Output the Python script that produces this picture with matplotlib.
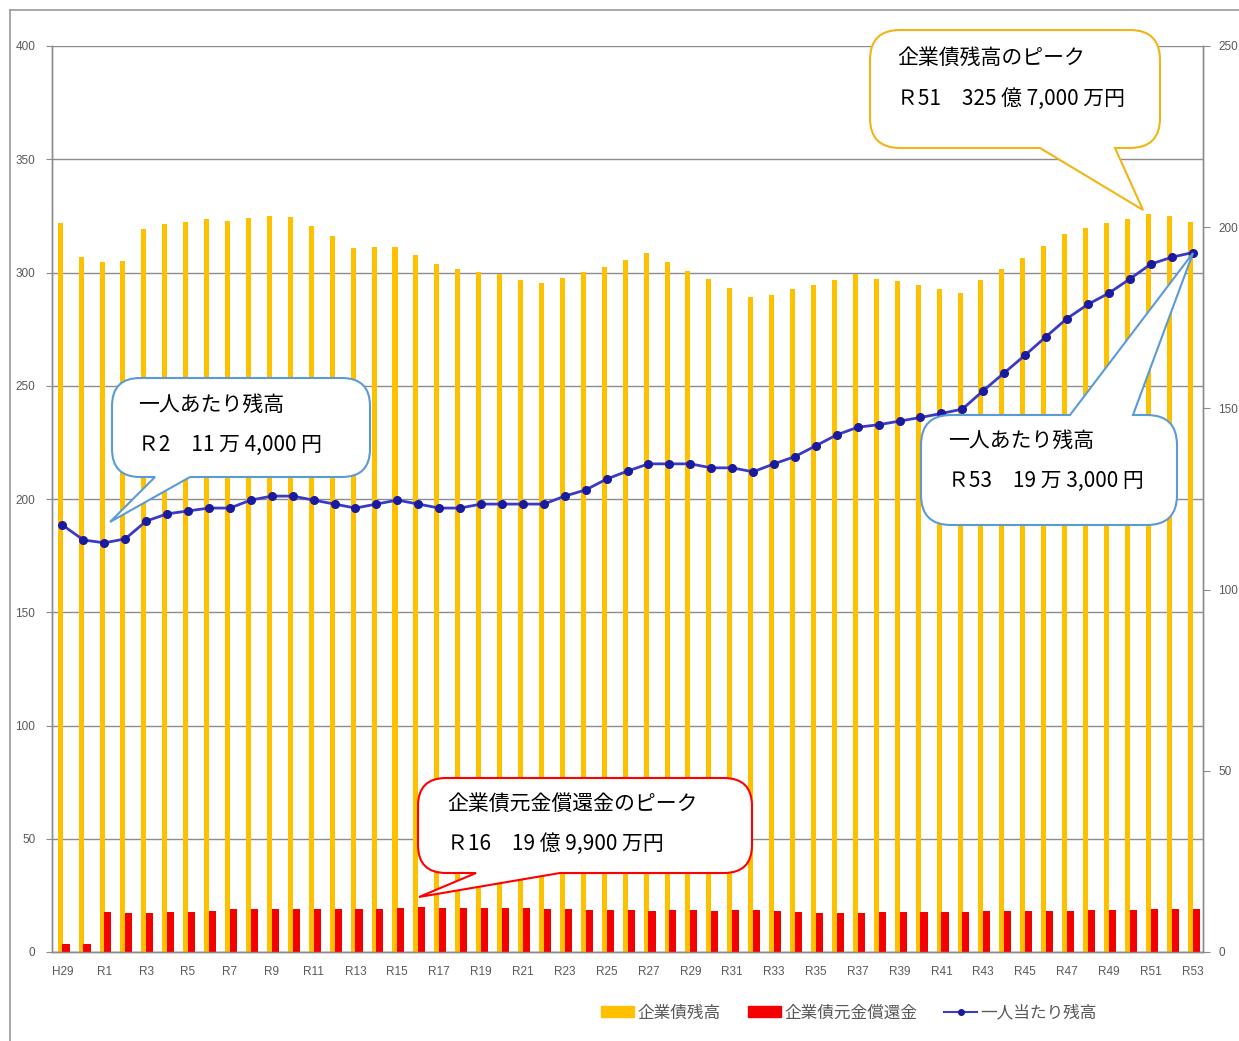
import matplotlib
matplotlib.use("Agg")
import matplotlib.pyplot as plt
from matplotlib.path import Path
from matplotlib.patches import PathPatch, Patch
from matplotlib.lines import Line2D
import numpy as np

plt.rcParams['font.family'] = ['Noto Sans CJK JP', 'DejaVu Sans']

# ---------------- data ----------------
categories = ["H29", "H30"] + [f"R{i}" for i in range(1, 54)]
tick_labels = categories[::2]

bond_balance = [322.0, 307.0, 304.5, 305.0, 319.0, 321.3, 322.3, 323.6, 322.7, 324.1,
                325.0, 324.5, 320.7, 316.1, 310.7, 311.1, 311.1, 307.7, 303.8, 301.6,
                300.4, 299.3, 296.7, 295.5, 297.6, 300.1, 302.4, 305.4, 308.5, 304.6,
                300.7, 297.0, 293.3, 289.2, 290.1, 292.6, 294.3, 296.5, 299.2, 297.3,
                296.1, 294.3, 292.9, 290.8, 296.5, 301.4, 306.5, 311.8, 317.1, 319.8,
                321.7, 323.6, 325.7, 325.0, 322.3]

principal_repay = [3.6, 3.6, 17.6, 17.2, 17.2, 17.6, 17.6, 18.0, 19.2, 19.2,
                   19.2, 19.2, 19.2, 18.8, 19.2, 19.2, 19.6, 19.99, 19.6, 19.6,
                   19.6, 19.6, 19.6, 19.2, 19.2, 18.5, 18.5, 18.5, 18.0, 18.5,
                   18.5, 18.0, 18.5, 18.5, 18.0, 17.6, 17.3, 17.3, 17.3, 17.6,
                   17.6, 17.6, 17.6, 17.6, 18.0, 18.0, 18.0, 18.0, 18.0, 18.5,
                   18.5, 18.5, 18.9, 18.9, 18.9]

per_capita = [117.8, 113.7, 112.9, 114.0, 118.9, 120.9, 121.7, 122.5, 122.5, 124.7,
              125.8, 125.8, 124.7, 123.6, 122.5, 123.6, 124.7, 123.6, 122.5, 122.5,
              123.6, 123.6, 123.6, 123.6, 125.8, 127.5, 130.5, 132.7, 134.7, 134.7,
              134.7, 133.6, 133.6, 132.5, 134.7, 136.7, 139.7, 142.7, 144.8, 145.5,
              146.5, 147.5, 148.6, 149.8, 154.9, 159.8, 164.7, 169.8, 174.8, 178.7,
              181.8, 185.7, 189.8, 191.7, 193.0]

series_names = ["企業債残高", "企業債元金償還金", "一人当たり残高"]

# ---------------- figure ----------------
W, H = 1239, 1041
fig = plt.figure(figsize=(W / 100, H / 100), dpi=100)
fig.patch.set_facecolor("white")

ax_l, ax_r, ax_t, ax_b = 52, 1203, 46, 952
ax = fig.add_axes([ax_l / W, 1 - ax_b / H, (ax_r - ax_l) / W, (ax_b - ax_t) / H])
ax2 = ax.twinx()

x = np.arange(len(categories))
yellow = "#FFC000"
red = "#F50000"
grid_c = "#8C8C8C"
tick_c = "#595959"
tick_font = ['Liberation Sans Narrow', 'Liberation Sans', 'DejaVu Sans']

ax.bar(x - 0.11, bond_balance, width=0.24, color=yellow, zorder=2)
ax.bar(x + 0.17, principal_repay, width=0.34, color=red, zorder=3)

ax.set_xlim(-0.5, len(categories) - 0.5)
ax.set_ylim(0, 400)
ax.set_yticks(np.arange(0, 401, 50))
ax2.set_ylim(0, 250)
ax2.set_yticks(np.arange(0, 251, 50))

ax.yaxis.grid(True, color=grid_c, lw=1.0, zorder=0)
ax.set_axisbelow(True)
ax.set_xticks(x[::2])
ax.set_xticklabels(tick_labels)

ax2.plot(x, per_capita, color="#3A3AC4", lw=2.0, marker="o", markersize=5.5,
         markerfacecolor="#1A1A9E", markeredgecolor="#1A1A9E", zorder=5)

for a in (ax, ax2):
    for s in a.spines.values():
        s.set_color(grid_c)
        s.set_linewidth(1.0)
    a.spines['top'].set_visible(False)

ax.tick_params(axis='y', length=4, color=grid_c, labelcolor=tick_c, labelsize=8.5, pad=8)
ax.tick_params(axis='x', length=0, labelcolor=tick_c, labelsize=8.5, pad=10)
ax2.tick_params(axis='y', length=5, color=grid_c, labelcolor=tick_c, labelsize=8.5, pad=6)
for lab in ax.get_xticklabels() + ax.get_yticklabels() + ax2.get_yticklabels():
    lab.set_family(tick_font)

# legend
handles = [Patch(facecolor=yellow, edgecolor=yellow),
           Patch(facecolor=red, edgecolor=red),
           Line2D([0], [0], color="#3A3AC4", lw=1.5, marker="o", markersize=4,
                  markerfacecolor="#1A1A9E", markeredgecolor="#1A1A9E")]
leg = fig.legend(handles, series_names, loc="center", ncol=3, frameon=False,
                 bbox_to_anchor=(849 / W, 1 - 1013 / H), fontsize=12,
                 handlelength=2.0, handleheight=0.6, handletextpad=0.2,
                 columnspacing=1.6, labelcolor=tick_c)

# ---------------- overlay for frame and callouts ----------------
ov = fig.add_axes([0, 0, 1, 1], zorder=10)
ov.set_xlim(0, W)
ov.set_ylim(H, 0)
ov.axis("off")
ov.patch.set_alpha(0)

frame_c = "#9A9A9A"
ov.plot([10, 10], [10, H], color=frame_c, lw=1.2)
ov.plot([10, W], [10, 10], color=frame_c, lw=1.2)


def callout(x0, y0, x1, y1, r, side, b0, b1, tip, color):
    V = [(x0 + r, y0)]
    C = [Path.MOVETO]
    if side == "top":
        V += [(b0, y0), tip, (b1, y0)]
        C += [Path.LINETO] * 3
    V += [(x1 - r, y0), (x1, y0), (x1, y0 + r), (x1, y1 - r), (x1, y1), (x1 - r, y1)]
    C += [Path.LINETO, Path.CURVE3, Path.CURVE3, Path.LINETO, Path.CURVE3, Path.CURVE3]
    if side == "bottom":
        V += [(b1, y1), tip, (b0, y1)]
        C += [Path.LINETO] * 3
    V += [(x0 + r, y1), (x0, y1), (x0, y1 - r), (x0, y0 + r), (x0, y0), (x0 + r, y0), (x0 + r, y0)]
    C += [Path.LINETO, Path.CURVE3, Path.CURVE3, Path.LINETO, Path.CURVE3, Path.CURVE3, Path.CLOSEPOLY]
    ov.add_patch(PathPatch(Path(V, C), facecolor="white", edgecolor=color, lw=1.5,
                           joinstyle="miter"))


blue_c = "#5B9BD5"
orange_c = "#F2B416"
red_c = "#FF0000"

callout(112, 378, 370, 477, 28, "bottom", 155, 190, (110, 522), blue_c)
callout(870, 30, 1160, 148, 30, "bottom", 1040, 1115, (1143, 210), orange_c)
callout(921, 415, 1177, 525, 30, "top", 1070, 1133, (1193, 253), blue_c)
callout(418, 778, 752, 873, 28, "bottom", 476, 560, (419, 897), red_c)

tkw = dict(fontsize=15, color="black", va="center", ha="left")
ov.text(138, 405, "一人あたり残高", **tkw)
ov.text(138, 445, "Ｒ2　11 万 4,000 円", **tkw)
ov.text(897, 58, "企業債残高のピーク", **tkw)
ov.text(897, 99, "Ｒ51　325 億 7,000 万円", **tkw)
ov.text(948, 441, "一人あたり残高", **tkw)
ov.text(948, 481, "Ｒ53　19 万 3,000 円", **tkw)
ov.text(447, 804, "企業債元金償還金のピーク", **tkw)
ov.text(447, 844, "Ｒ16　19 億 9,900 万円", **tkw)

fig.savefig("out.png", dpi=100)
